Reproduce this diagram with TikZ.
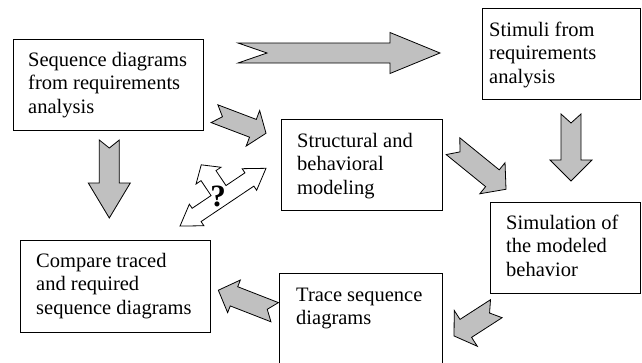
\documentclass[tikz,border=0pt]{standalone}
\usepackage{fontspec}
\setmainfont{Liberation Serif}
\definecolor{arrowgray}{HTML}{C0C0C0}
% notched block arrow: tail centre, screen angle (clockwise), length, head length,
% shaft half width, head half width, notch depth
\newcommand\notcharrow[7]{%
  \draw[garrow, shift={#1}, rotate=-#2]
    (0,#5) -- ({#3-#4},#5) -- ({#3-#4},#6) -- (#3,0) -- ({#3-#4},-#6)
    -- ({#3-#4},-#5) -- (0,-#5) -- (#7,0) -- cycle;}
\newcommand\firstline{\rule{0pt}{15pt}}
\begin{document}
\begin{tikzpicture}[x=1pt,y=-1pt,
  box/.style={draw=black, line width=1pt, fill=white, inner sep=0pt, anchor=north west},
  lbl/.style={anchor=north west, inner sep=0pt, align=left,
              font=\fontsize{20.5}{23.5}\selectfont},
  garrow/.style={draw=black, line width=0.8pt, fill=arrowgray, line join=miter},
  warrow/.style={draw=black, line width=0.8pt, fill=white, line join=miter}]
\useasboundingbox (0,0) rectangle (642,362);

% boxes
\node[box, minimum width=190pt, minimum height=91pt] (seq) at (13,39) {};
\node[box, minimum width=158pt, minimum height=91pt] (stim) at (482,8) {};
\node[box, minimum width=161pt, minimum height=91pt] (struct) at (281,119) {};
\node[box, minimum width=150pt, minimum height=91pt] (sim) at (490,202) {};
\node[box, minimum width=163pt, minimum height=95pt] (trace) at (279,273) {};
\node[box, minimum width=190pt, minimum height=92pt] (comp) at (20,240) {};

% box texts
\node[lbl] (seqtxt) at (28,51) {\firstline Sequence diagrams\\from requirements\\analysis};
\node[lbl] (stimtxt) at (489,21) {\firstline Stimuli from\\requirements\\analysis};
\node[lbl] (structtxt) at (297,132) {\firstline Structural and\\behavioral\\modeling};
\node[lbl] (simtxt) at (506,214) {\firstline Simulation of\\the modeled\\behavior};
\node[lbl] (tracetxt) at (296,286) {\firstline Trace sequence\\diagrams};
\node[lbl] (comptxt) at (36,252) {\firstline Compare traced\\and required\\sequence diagrams};

% grey block arrows
\notcharrow{(238,53)}{0}{202}{50}{10}{20.5}{29}
\notcharrow{(571,114)}{90}{67}{21}{10}{21}{9}
\notcharrow{(109.3,140)}{90}{78}{35}{10}{21}{8}
\notcharrow{(214.5,113.7)}{20.8}{55.1}{14}{9.5}{19}{8.5}
\notcharrow{(453,146.2)}{39.1}{68.3}{17.5}{10.8}{20}{9}
\notcharrow{(496.3,308.7)}{147.2}{50.3}{14}{10.7}{21.3}{8}
\notcharrow{(274.7,312.2)}{201.3}{60.5}{16.8}{10.3}{17.5}{8}

% white three-headed arrow with question mark
\begin{scope}[shift={(223,197.2)}, rotate=33.9]
  \draw[warrow] (51.8,0) -- (31.8,-13) -- (31.8,-8) -- (9,-8) -- (9,-26) -- (15,-26)
    -- (0,-39) -- (-15,-26) -- (-9,-26) -- (-9,-8) -- (-31.8,-8) -- (-31.8,-13)
    -- (-51.8,0) -- (-31.8,13) -- (-31.8,8) -- (31.8,8) -- (31.8,13) -- cycle;
\end{scope}
\node[inner sep=0pt, font=\bfseries\fontsize{31}{31}\selectfont] (q) at (218,196) {?};
\end{tikzpicture}
\end{document}
